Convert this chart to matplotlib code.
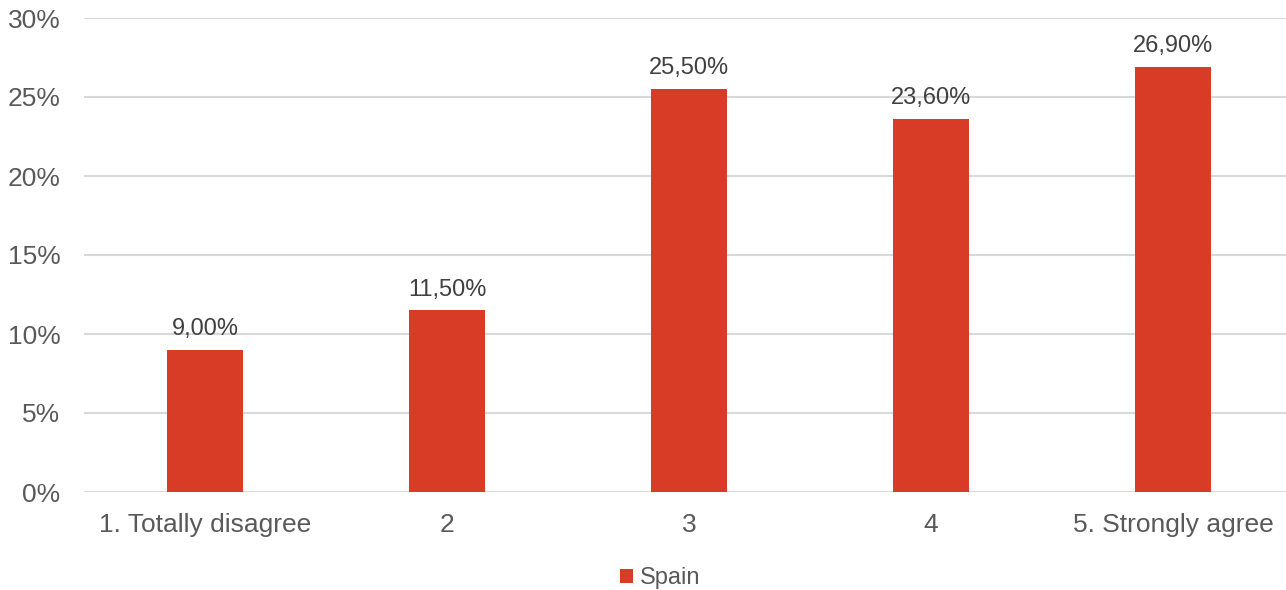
import matplotlib.pyplot as plt
from matplotlib.ticker import FuncFormatter

categories = ['1. Totally disagree', '2', '3', '4', '5. Strongly agree']
spain = [9.0, 11.5, 25.5, 23.6, 26.9]
yticks = [0, 5, 10, 15, 20, 25, 30]

bar_color = '#D83C27'
text_color = '#595959'
grid_color = '#D9D9D9'

plt.rcParams['font.family'] = ['Liberation Sans', 'DejaVu Sans']

fig = plt.figure(figsize=(12.86, 5.9), dpi=100)
# plot area runs a little past the right edge, as in the source
ax = fig.add_axes([84 / 1286, 98 / 590, 1210 / 1286, 474 / 590])

x = range(len(categories))
bars = ax.bar(x, spain, width=0.315, color=bar_color, label='Spain', zorder=2)

## data labels with comma decimals
for b, v in zip(bars, spain):
    ax.annotate('{:.2f}%'.format(v).replace('.', ','),
                (b.get_x() + b.get_width() / 2, v),
                xytext=(0, 7), textcoords='offset points',
                ha='center', va='bottom', fontsize=17, color='#404040')

ax.set_xlim(-0.5, len(categories) - 0.5)
ax.set_ylim(0, 30)
ax.set_yticks(yticks)
ax.yaxis.set_major_formatter(FuncFormatter(lambda v, p: '{:.0f}%'.format(v)))
ax.set_xticks(list(x))
ax.set_xticklabels(categories)

ax.grid(axis='y', color=grid_color, linewidth=1.5, zorder=0)
for s in ax.spines.values():
    s.set_visible(False)
ax.tick_params(axis='both', length=0, labelsize=19, colors=text_color)
ax.tick_params(axis='y', pad=17)
ax.tick_params(axis='x', pad=15)

fig.legend(loc='center', bbox_to_anchor=(660 / 1286, 12 / 590), frameon=False,
           fontsize=17, labelcolor=text_color, handlelength=0.55, handleheight=0.55,
           handletextpad=0.3)

fig.savefig('out.png', dpi=100)
